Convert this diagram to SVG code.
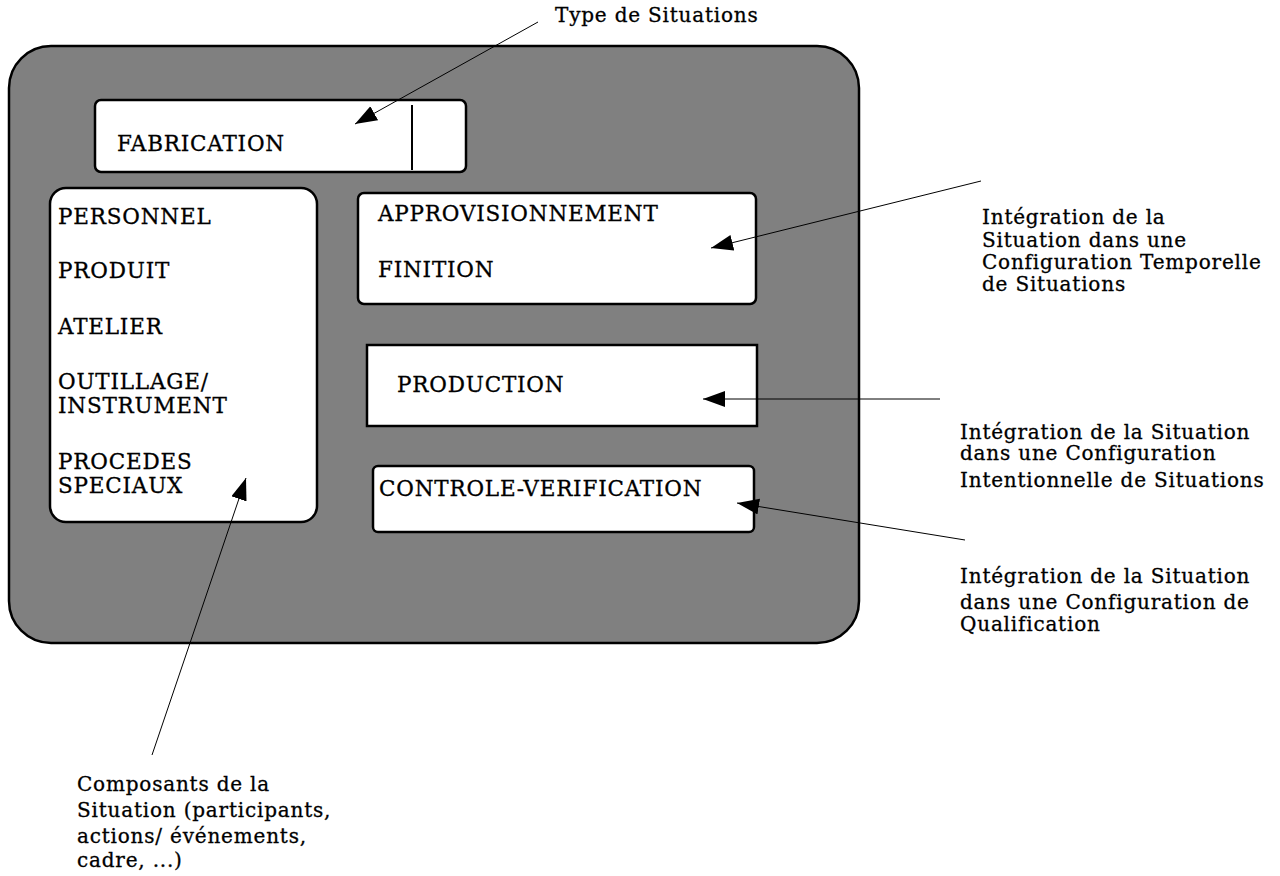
<svg xmlns="http://www.w3.org/2000/svg" width="1280" height="876" viewBox="0 0 1280 876">
<defs>
<style>
.t{font-family:"DejaVu Serif","Liberation Serif",serif;font-size:20px;letter-spacing:0.8px;fill:#000;stroke:#000;stroke-width:0.3px}
.c{font-family:"DejaVu Serif","Liberation Serif",serif;font-size:21.5px;letter-spacing:0.8px;fill:#000;stroke:#000;stroke-width:0.3px}
.box{fill:#fff;stroke:#000;stroke-width:2.5}
.ln{stroke:#000;stroke-width:1;fill:none}
</style>
<marker id="ah" markerUnits="userSpaceOnUse" markerWidth="24" markerHeight="18" refX="22" refY="8" orient="auto">
<path d="M0,0 L22,8 L0,16 Z" fill="#000"/>
</marker>
</defs>
<rect width="1280" height="876" fill="#fff"/>
<g id="frame">
<rect x="9" y="46" width="850" height="597" rx="42" ry="42" fill="#808080" stroke="#000" stroke-width="2.5"/>
</g>
<g id="fabrication">
<rect class="box" x="95" y="100" width="371" height="72" rx="6"/>
<line x1="412" y1="105" x2="412" y2="170" stroke="#000" stroke-width="2"/>
<text class="c" x="117" y="151">FABRICATION</text>
</g>
<g id="composants-box">
<rect class="box" x="50" y="188" width="267" height="334" rx="16"/>
<text class="c" x="58" y="224">PERSONNEL</text>
<text class="c" x="58" y="278">PRODUIT</text>
<text class="c" x="58" y="334">ATELIER</text>
<text class="c" x="58" y="389">OUTILLAGE/</text>
<text class="c" x="58" y="413">INSTRUMENT</text>
<text class="c" x="58" y="469">PROCEDES</text>
<text class="c" x="58" y="493">SPECIAUX</text>
</g>
<g id="approvisionnement">
<rect class="box" x="358" y="193" width="398" height="111" rx="6"/>
<text class="c" x="378" y="221">APPROVISIONNEMENT</text>
<text class="c" x="378" y="277">FINITION</text>
</g>
<g id="production">
<rect class="box" x="367" y="345" width="390" height="81"/>
<text class="c" x="397" y="392">PRODUCTION</text>
</g>
<g id="controle">
<rect class="box" x="373" y="466" width="381" height="66" rx="5"/>
<text class="c" x="379" y="496">CONTROLE-VERIFICATION</text>
</g>
<g id="connectors">
<line class="ln" x1="538" y1="22" x2="355" y2="124" marker-end="url(#ah)"/>
<line class="ln" x1="981" y1="181" x2="711" y2="248" marker-end="url(#ah)"/>
<line class="ln" x1="940" y1="399" x2="703" y2="399" marker-end="url(#ah)"/>
<line class="ln" x1="965" y1="540" x2="737" y2="503" marker-end="url(#ah)"/>
<line class="ln" x1="152" y1="755" x2="246" y2="478" marker-end="url(#ah)"/>
</g>
<g id="labels">
<text class="t" x="555" y="22">Type de Situations</text>
<text class="t" x="982" y="224">Intégration de la</text>
<text class="t" x="982" y="247">Situation dans une</text>
<text class="t" x="982" y="269">Configuration Temporelle</text>
<text class="t" x="982" y="291">de Situations</text>
<text class="t" x="960" y="439">Intégration de la Situation</text>
<text class="t" x="960" y="460">dans une Configuration</text>
<text class="t" x="960" y="487">Intentionnelle de Situations</text>
<text class="t" x="960" y="583">Intégration de la Situation</text>
<text class="t" x="960" y="609">dans une Configuration de</text>
<text class="t" x="960" y="631">Qualification</text>
<text class="t" x="77" y="791">Composants de la</text>
<text class="t" x="77" y="817">Situation (participants,</text>
<text class="t" x="77" y="843">actions/ événements,</text>
<text class="t" x="77" y="867">cadre, ...)</text>
</g>
</svg>
